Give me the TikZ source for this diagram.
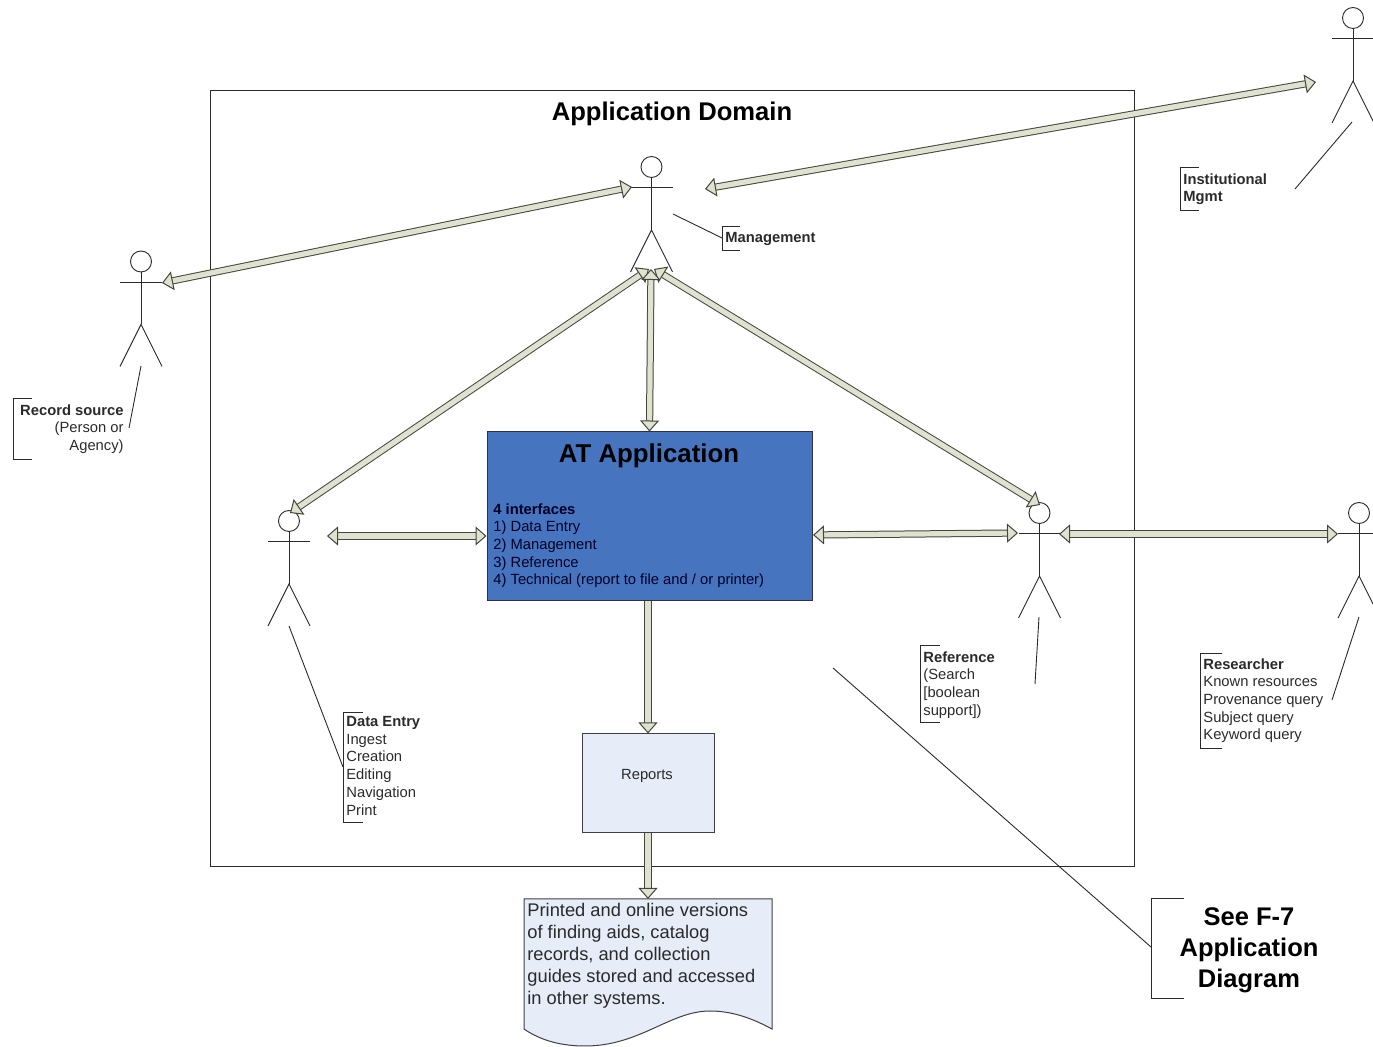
\documentclass[tikz,border=0pt]{standalone}
\usepackage{fontspec}
\setmainfont{Liberation Sans}
\usetikzlibrary{arrows.meta}

\definecolor{blockfill}{HTML}{DFE2D0}
\definecolor{blockline}{HTML}{45463A}
\definecolor{atblue}{HTML}{4674BE}
\definecolor{paleblue}{HTML}{E6ECF8}
\definecolor{inkgrey}{HTML}{2A2A2A}

\tikzset{
    thin line/.style={draw=inkgrey, line width=.45pt},
    block/.style={double=blockfill, draw=blockline, line width=.5pt, double distance=2.6pt},
    both tips/.style={block, {Triangle[length=5.5pt, width=9.5pt, fill=blockfill, line width=.5pt]}-{Triangle[length=5.5pt, width=9.5pt, fill=blockfill, line width=.5pt]}},
    end tip/.style={block, -{Triangle[length=5.5pt, width=9.5pt, fill=blockfill, line width=.5pt]}},
    small text/.style={text=inkgrey, align=left, inner sep=0pt, font=\fontsize{7.38}{8.85}\selectfont},
    big text/.style={text=black, align=center, inner sep=0pt, font=\bfseries\fontsize{12.75}{15.5}\selectfont}
}

\begin{document}
\begin{tikzpicture}[x=.5pt, y=-.5pt]
    \useasboundingbox (0, 0) rectangle (1373, 1047);

    % stick figures: head centre given, the rest hangs below it
    \foreach \who/\hx/\hy in {mgmt/651.5/167, source/141/261.5, inst/1353/18, entry/289/521, ref/1039.5/513, researcher/1359/513} {
        \node [circle, thin line, fill=white, minimum size=10.5pt, inner sep=0pt] (\who) at (\hx, \hy) {};
        \coordinate (\who hip) at (\hx, \hy + 63);
        \draw [thin line] (\who.south) -- (\who hip);
        \draw [thin line] (\hx - 21, \hy + 20.5) -- (\hx + 21, \hy + 20.5);
        \draw [thin line] (\hx - 21, \hy + 105) -- (\who hip) -- (\hx + 21, \hy + 105);
    }

    % boxes
    \node [thin line, minimum width=462pt, minimum height=388pt, inner sep=0pt] (domain) at (672.5, 478) {};
    \node [draw=black!80, fill=atblue, line width=.5pt, minimum width=162.5pt, minimum height=84.5pt, inner sep=0pt] (at) at (649.5, 516.5) {};
    \node [draw=black!75, fill=paleblue, line width=.5pt, minimum width=66pt, minimum height=49.5pt, inner sep=0pt] (reports) at (648, 783.5) {};
    \draw [draw=black!75, fill=paleblue, line width=.5pt] (524, 899) coordinate (doc) -- (772, 899) -- (772, 1029)
        .. controls (750, 1017) and (730, 1011) .. (710, 1011)
        .. controls (670, 1011) and (640, 1046) .. (585, 1046)
        .. controls (560, 1046) and (540, 1040) .. (524, 1029) -- cycle;

    % block arrow ends
    \coordinate (A) at (162, 283);
    \coordinate (B) at (632, 187);
    \coordinate (C) at (705, 189);
    \coordinate (D) at (1316, 82);
    \coordinate (E) at (290, 513);
    \coordinate (F) at (649, 269);
    \coordinate (G) at (1040, 505);
    \coordinate (H) at (654, 269);
    \coordinate (I) at (651, 269);
    \coordinate (J) at (327, 536);
    \coordinate (K) at (813, 535);
    \coordinate (L) at (1018, 533);
    \coordinate (M) at (1059, 534);
    \coordinate (N) at (1338, 534);

    \draw [both tips] (A) -- (B);
    \draw [both tips] (C) -- (D);
    \draw [both tips] (E) -- (F);
    \draw [both tips] (G) -- (H);
    \draw [both tips] (I) -- (at.north);
    \draw [both tips] (J) -- (at.west |- J);
    \draw [both tips] (K) -- (L);
    \draw [both tips] (M) -- (N);
    \draw [end tip] (at.south -| reports) -- (reports.north);
    \draw [end tip] (reports.south) -- (reports.south |- doc);

    % texts
    \node [font=\bfseries\fontsize{12.8}{15}\selectfont, inner sep=0pt] (title) at (672, 114) {Application Domain};
    \node [font=\bfseries\fontsize{12.9}{15}\selectfont, inner sep=0pt] (attitle) at (649, 456) {AT Application};
    \node [small text, anchor=north west, text=black!85!blue] (atlist) at (493, 503) {\textbf{4 interfaces}\\1) Data Entry\\2) Management\\3) Reference\\4) Technical (report to file and / or printer)};
    \node [small text] (reportstext) at (647, 776) {Reports};
    \node [small text, anchor=north west, font=\fontsize{9.15}{11}\selectfont] (doctext) at (527, 903) {Printed and online versions\\of finding aids, catalog\\records, and collection\\guides stored and accessed\\in other systems.};
    \node [small text, anchor=north west] (mgmttext) at (725, 232) {\textbf{Management}};
    \node [small text, anchor=north west] (insttext) at (1183, 173) {\textbf{Institutional}\\\textbf{Mgmt}};
    \node [small text, anchor=north east, align=right] (sourcetext) at (124, 404) {\textbf{Record source}\\(Person or\\Agency)};
    \node [small text, anchor=north west] (entrytext) at (346, 716) {\textbf{Data Entry}\\Ingest\\Creation\\Editing\\Navigation\\Print};
    \node [small text, anchor=north west] (reftext) at (923, 651) {\textbf{Reference}\\(Search\\{[boolean}\\support])};
    \node [small text, anchor=north west] (researchertext) at (1203, 658) {\textbf{Researcher}\\Known resources\\Provenance query\\Subject query\\Keyword query};
    \node [big text] (seetext) at (1249, 950.5) {See F-7\\Application\\Diagram};

    % brackets
    \draw [thin line] (740, 226) -- (722, 226) -- (722, 250) -- (740, 250);
    \draw [thin line] (1199, 167) -- (1180, 167) -- (1180, 210) -- (1199, 210);
    \draw [thin line] (32, 398) -- (13, 398) -- (13, 459) -- (32, 459);
    \draw [thin line] (363, 712) -- (343, 712) -- (343, 822) -- (363, 822);
    \draw [thin line] (940, 645) -- (920, 645) -- (920, 722) -- (940, 722);
    \draw [thin line] (1222, 653) -- (1200, 653) -- (1200, 748) -- (1222, 748);
    \draw [thin line] (1184, 898) -- (1151, 898) -- (1151, 998) -- (1184, 998);

    % leader lines
    \coordinate (mgmtlead) at (673, 214);
    \coordinate (mgmtend) at (722, 238);
    \coordinate (instlead) at (1352, 122);
    \coordinate (instend) at (1295, 189);
    \coordinate (sourcelead) at (141, 366);
    \coordinate (sourceend) at (129, 428);
    \coordinate (entrylead) at (289, 626);
    \coordinate (entryend) at (343, 767);
    \coordinate (reflead) at (1039, 617);
    \coordinate (refend) at (1035, 684);
    \coordinate (researcherlead) at (1359, 617);
    \coordinate (researcherend) at (1332, 700);
    \coordinate (seelead) at (833, 668);
    \coordinate (seeend) at (1151, 947);
    \foreach \who in {mgmt, inst, source, entry, ref, researcher, see}
        \draw [thin line] (\who lead) -- (\who end);
\end{tikzpicture}
\end{document}
